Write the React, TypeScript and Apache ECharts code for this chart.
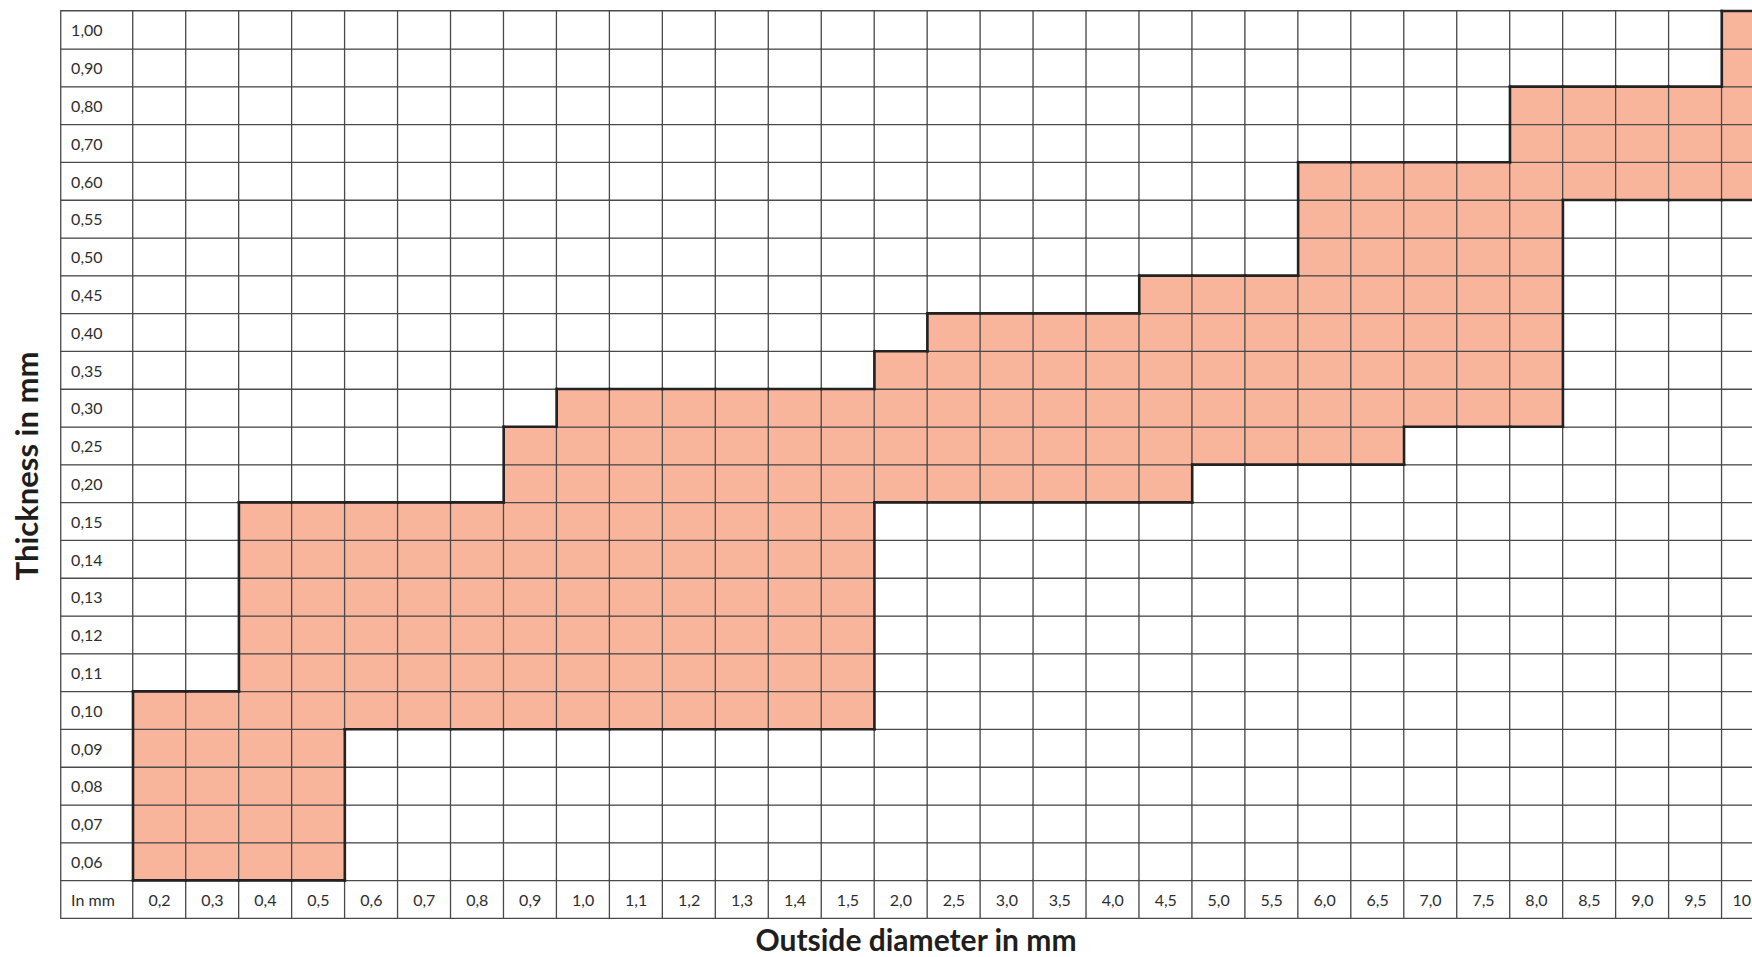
import React, { useEffect, useRef } from "react";
import * as echarts from "echarts";

// Thickness categories (bottom to top)
const thicknessLabels = [
  "0,06", "0,07", "0,08", "0,09", "0,10", "0,11", "0,12", "0,13", "0,14", "0,15",
  "0,20", "0,25", "0,30", "0,35", "0,40", "0,45", "0,50", "0,55", "0,60", "0,70",
  "0,80", "0,90", "1,00",
];

// Outside diameter categories (left to right)
const diameterLabels = [
  "0,2", "0,3", "0,4", "0,5", "0,6", "0,7", "0,8", "0,9", "1,0", "1,1", "1,2", "1,3", "1,4", "1,5",
  "2,0", "2,5", "3,0", "3,5", "4,0", "4,5", "5,0", "5,5", "6,0", "6,5", "7,0", "7,5", "8,0", "8,5",
  "9,0", "9,5", "10,0",
];

// Available thickness range per diameter (lowest and highest thickness)
const shadedFrom = [
  "0,06", "0,06", "0,06", "0,06", "0,10", "0,10", "0,10", "0,10", "0,10", "0,10", "0,10", "0,10", "0,10", "0,10",
  "0,20", "0,20", "0,20", "0,20", "0,20", "0,20", "0,25", "0,25", "0,25", "0,25", "0,30", "0,30", "0,30", "0,60",
  "0,60", "0,60", "0,60",
];
const shadedTo = [
  "0,10", "0,10", "0,15", "0,15", "0,15", "0,15", "0,15", "0,25", "0,30", "0,30", "0,30", "0,30", "0,30", "0,30",
  "0,35", "0,40", "0,40", "0,40", "0,40", "0,45", "0,45", "0,45", "0,60", "0,60", "0,60", "0,60", "0,80", "0,80",
  "0,80", "0,80", "1,00",
];

const cornerLabel = "In mm";
const xTitle = "Outside diameter in mm";
const yTitle = "Thickness in mm";

const FILL = "#F8B59B";
const LINE = "#4a4a4a";
const FONT = "Lato, 'Open Sans', sans-serif";

export default function App() {
  const ref = useRef<HTMLDivElement>(null);

  useEffect(() => {
    document.body.style.margin = "0";
    document.body.style.overflow = "hidden";
    document.documentElement.style.overflow = "hidden";
    if (!ref.current) return;
    const chart = echarts.init(ref.current, null, { renderer: "svg" });

    const rowCats = [cornerLabel, ...thicknessLabels];
    const rowOf = (t: string) => thicknessLabels.indexOf(t) + 1;

    const mainData: any[] = [];
    diameterLabels.forEach((_, xi) => {
      const lo = rowOf(shadedFrom[xi]);
      const hi = rowOf(shadedTo[xi]);
      for (let yi = 0; yi < rowCats.length; yi++) {
        let v = 0;
        if (yi === 0) v = -1;
        else if (yi >= lo && yi <= hi) v = 1;
        mainData.push([xi, yi, v]);
      }
    });
    const labelColData = rowCats.map((_, yi) => [0, yi, -1]);

    const COL_W = 52.96;
    const ROW_H = 37.8;
    const TOP = 11;
    const LEFT = 61;
    const LABEL_W = 72;

    const outlineData = diameterLabels.map((_, xi) => [xi, rowOf(shadedFrom[xi]), rowOf(shadedTo[xi])]);

    const renderOutline = (params: any, api: any) => {
      const xi = api.value(0);
      const lo = api.value(1);
      const hi = api.value(2);
      const size = api.size([1, 1]);
      const w = size[0];
      const h = size[1];
      const cLo = api.coord([xi, lo]);
      const cHi = api.coord([xi, hi]);
      const xL = cLo[0] - w / 2;
      const xR = cLo[0] + w / 2;
      const yB = cLo[1] + h / 2;
      const yT = cHi[1] - h / 2;
      const style = { stroke: "#222", lineWidth: 2.6, lineCap: "square" };
      const children: any[] = [
        { type: "line", shape: { x1: xL, y1: yT, x2: xR, y2: yT }, style },
        { type: "line", shape: { x1: xL, y1: yB, x2: xR, y2: yB }, style },
      ];
      const verticalEdge = (x: number, pLo: number, pHi: number) => {
        // symmetric difference between [lo,hi] and [pLo,pHi]
        const cells: number[] = [];
        for (let r = 1; r < rowCats.length; r++) {
          const a = r >= lo && r <= hi;
          const b = r >= pLo && r <= pHi;
          if (a !== b) cells.push(r);
        }
        let i = 0;
        while (i < cells.length) {
          let j = i;
          while (j + 1 < cells.length && cells[j + 1] === cells[j] + 1) j++;
          const yBottom = api.coord([xi, cells[i]])[1] + h / 2;
          const yTop = api.coord([xi, cells[j]])[1] - h / 2;
          children.push({ type: "line", shape: { x1: x, y1: yBottom, x2: x, y2: yTop }, style });
          i = j + 1;
        }
      };
      if (xi === 0) verticalEdge(xL, -10, -10);
      else verticalEdge(xL, outlineData[xi - 1][1], outlineData[xi - 1][2]);
      if (xi === diameterLabels.length - 1) verticalEdge(xR, -10, -10);
      return { type: "group", children };
    };

    const hiddenAxis = {
      axisLine: { show: false },
      axisTick: { show: false },
      axisLabel: { show: false },
      splitLine: { show: false },
    };

    chart.setOption({
      animation: false,
      grid: [
        { left: LEFT, top: TOP, width: LABEL_W, height: ROW_H * rowCats.length },
        { left: LEFT + LABEL_W, top: TOP, width: COL_W * diameterLabels.length, height: ROW_H * rowCats.length },
      ],
      xAxis: [
        { type: "category", gridIndex: 0, data: [""], ...hiddenAxis },
        { type: "category", gridIndex: 1, data: diameterLabels, ...hiddenAxis },
      ],
      yAxis: [
        { type: "category", gridIndex: 0, data: rowCats, ...hiddenAxis },
        { type: "category", gridIndex: 1, data: rowCats, ...hiddenAxis },
      ],
      visualMap: {
        type: "piecewise",
        show: false,
        dimension: 2,
        seriesIndex: [0, 1],
        pieces: [
          { value: -1, color: "#ffffff" },
          { value: 0, color: "#ffffff" },
          { value: 1, color: FILL },
        ],
      },
      series: [
        {
          type: "heatmap",
          xAxisIndex: 0,
          yAxisIndex: 0,
          data: labelColData,
          itemStyle: { borderColor: LINE, borderWidth: 1.3 },
          emphasis: { disabled: true },
          label: {
            show: true,
            position: "insideLeft",
            distance: 11,
            fontFamily: FONT,
            fontSize: 16,
            color: "#2e2e2e",
            formatter: (p: any) => rowCats[p.value[1]],
          },
        },
        {
          type: "heatmap",
          xAxisIndex: 1,
          yAxisIndex: 1,
          data: mainData,
          itemStyle: { borderColor: LINE, borderWidth: 1.3 },
          emphasis: { disabled: true },
          label: {
            show: true,
            fontFamily: FONT,
            fontSize: 16,
            color: "#2e2e2e",
            formatter: (p: any) => (p.value[1] === 0 ? diameterLabels[p.value[0]] : ""),
          },
        },
        {
          type: "custom",
          xAxisIndex: 1,
          yAxisIndex: 1,
          data: outlineData,
          encode: { x: 0, y: 1 },
          renderItem: renderOutline,
          silent: true,
          z: 10,
        },
      ],
      graphic: [
        {
          type: "text",
          x: 916,
          y: 939,
          style: {
            text: xTitle,
            textAlign: "center",
            textVerticalAlign: "middle",
            fontFamily: FONT,
            fontWeight: "bold",
            fontSize: 30,
            fill: "#1e1e1e",
          },
        },
        {
          type: "text",
          x: 26,
          y: 466,
          rotation: Math.PI / 2,
          style: {
            text: yTitle,
            textAlign: "center",
            textVerticalAlign: "middle",
            fontFamily: FONT,
            fontWeight: "bold",
            fontSize: 31,
            fill: "#1e1e1e",
          },
        },
      ],
    });

    return () => chart.dispose();
  }, []);

  return <div ref={ref} style={{ width: 1776, height: 957 }} />;
}
